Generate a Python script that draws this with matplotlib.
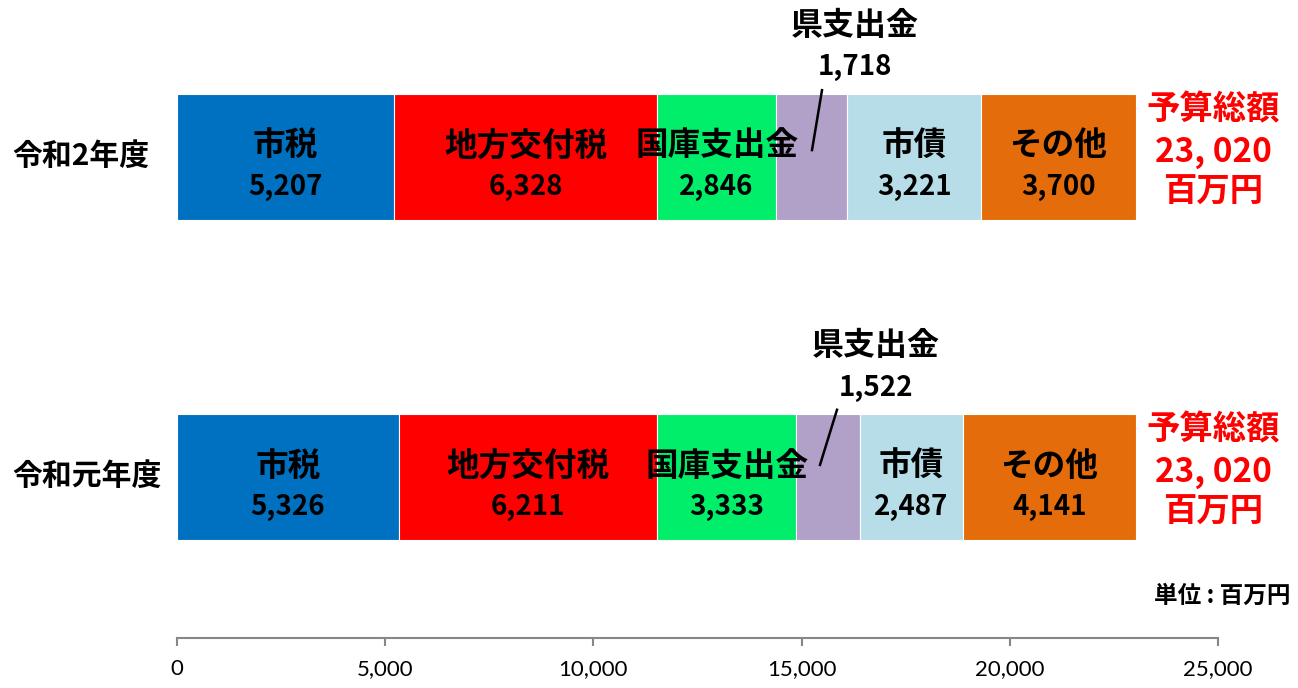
import matplotlib
matplotlib.use('Agg')
import matplotlib.pyplot as plt
import matplotlib.transforms as mtrans
import numpy as np

plt.rcParams['font.family'] = ['Noto Sans CJK JP', 'DejaVu Sans']

# data
years = ['令和元年度', '令和2年度']
items = ['市税', '地方交付税', '国庫支出金', '県支出金', '市債', 'その他']
vals = {
    '令和元年度': [5326, 6211, 3333, 1522, 2487, 4141],
    '令和2年度': [5207, 6328, 2846, 1718, 3221, 3700],
}
totals = ['23, 020', '23, 020']
colors = ['#0070C0', '#FF0000', '#00EE6A', '#B1A0C7', '#B7DEE8', '#E46C0A']
xticks = [0, 5000, 10000, 15000, 20000, 25000]

fig = plt.figure(figsize=(12.98, 6.88), dpi=100)
ax = fig.add_axes([177/1298, 1 - 638/688, (1218 - 177)/1298, 638/688])
figx = mtrans.blended_transform_factory(fig.transFigure, ax.transData)

h = 0.394
# where the 県支出金 labels sit, and their leader lines (offsets from segment centre)
ken_lab_x = [16790, 16283]
ken_line = [(219, -189, 0.211, 0.039), (250, 10, 0.209, 0.022)]

for yi, yr in enumerate(years):
    v = np.array(vals[yr])
    left = np.concatenate([[0], np.cumsum(v)[:-1]])
    ax.barh(yi, v, left=left, height=h, color=colors, edgecolor='white', linewidth=0.8)
    for name, val, l in zip(items, v, left):
        cx = l + val / 2
        if name == '県支出金':
            tx = ken_lab_x[yi]
            ax.text(tx, yi + 0.41, name, ha='center', va='center', fontsize=23, fontweight='bold')
            ax.text(tx, yi + 0.28, f'{val:,}', ha='center', va='center', fontsize=20, fontweight='bold')
            d0, d1, y0, y1 = ken_line[yi]
            ax.plot([cx + d0, cx + d1], [yi + y0, yi + y1], color='black', lw=1.8)
            continue
        ax.text(cx, yi + 0.035, name, ha='center', va='center', fontsize=23.5, fontweight='bold')
        ax.text(cx, yi - 0.092, f'{val:,}', ha='center', va='center', fontsize=20, fontweight='bold')
    # total
    ax.text(24880, yi + 0.148, '予算総額', ha='center', va='center', fontsize=24, fontweight='bold', color='#FF0000')
    ax.text(24880, yi + 0.015, totals[yi], ha='center', va='center', fontsize=24, fontweight='bold', color='#FF0000')
    ax.text(24880, yi - 0.11, '百万円', ha='center', va='center', fontsize=24, fontweight='bold', color='#FF0000')
    # year label
    ax.text(12/1298, yi + 0.005, yr, transform=figx, ha='left', va='center', fontsize=21.5, fontweight='bold')

ax.text(1290/1298, -0.37, '単位 : 百万円', transform=figx, ha='right', va='center', fontsize=17, fontweight='bold')

ax.set_xlim(0, 25000)
ax.set_ylim(-0.5016, 1.4906)
ax.set_xticks(xticks)
ax.set_xticklabels([f'{t:,}' for t in xticks], fontsize=16, family='Lato')
ax.set_yticks([])
for s in ['top', 'right', 'left']:
    ax.spines[s].set_visible(False)
ax.spines['bottom'].set_color('#868686')
ax.spines['bottom'].set_linewidth(1.5)
ax.tick_params(axis='x', direction='out', length=6, width=1.5, color='#868686', pad=9)

fig.savefig('out.png', dpi=100)
